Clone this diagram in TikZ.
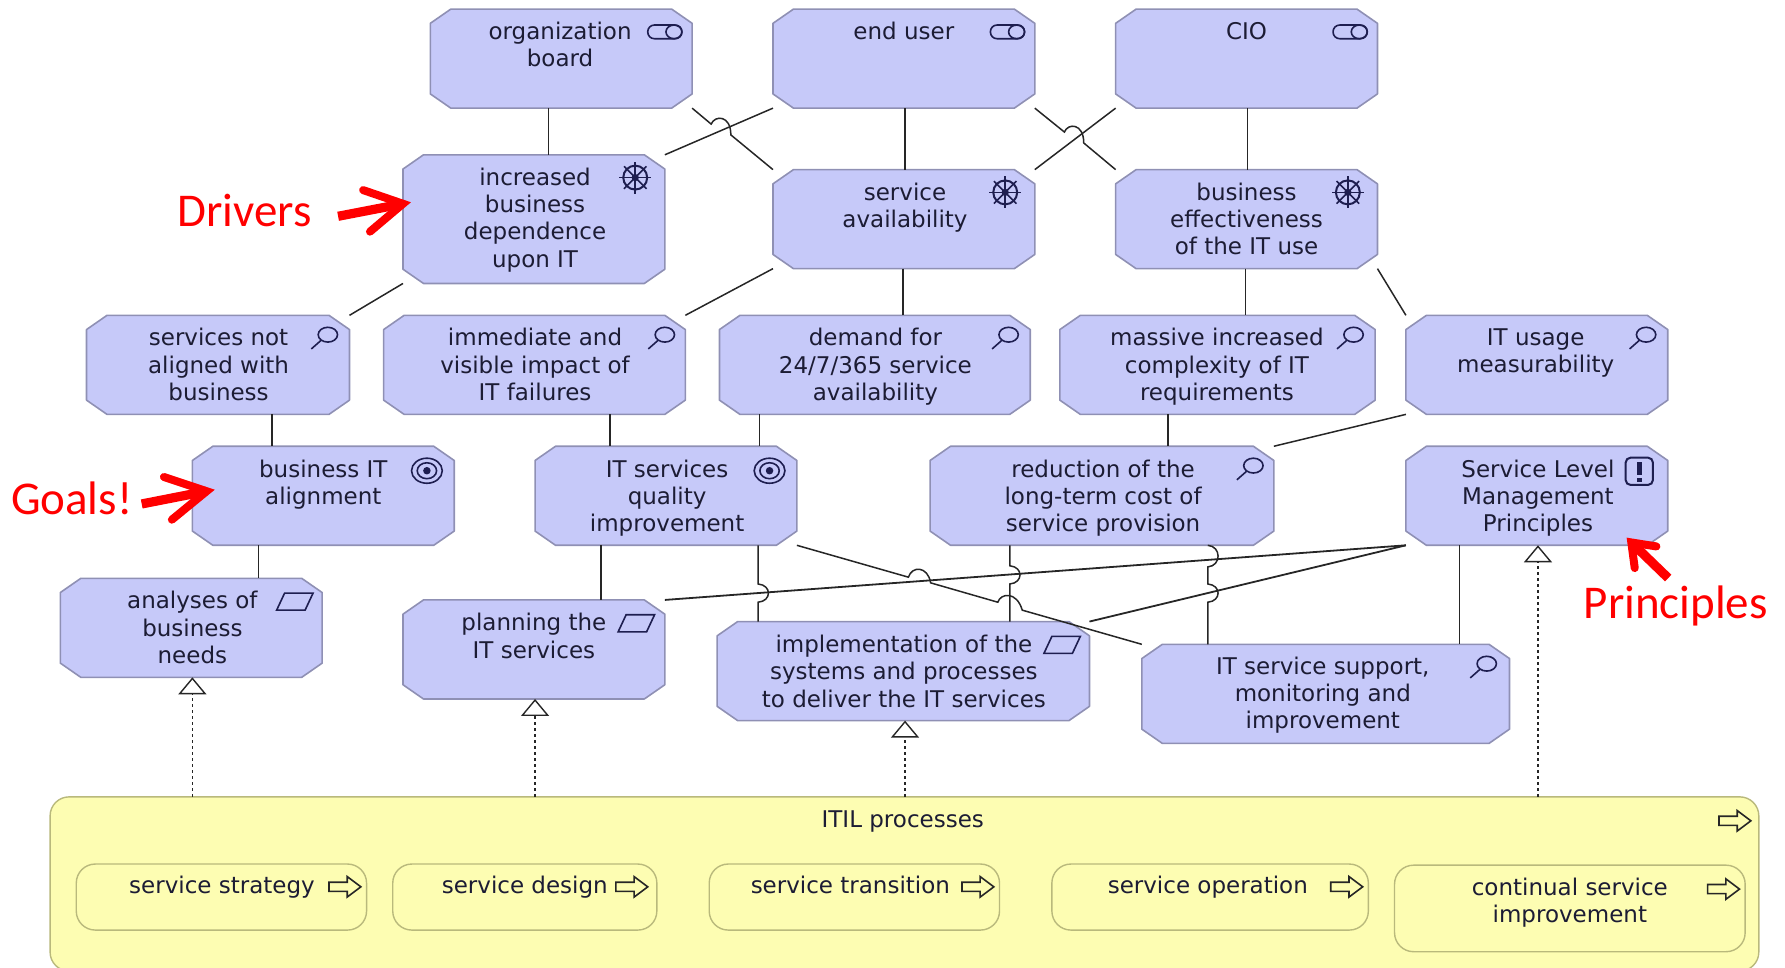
\documentclass[tikz,border=0pt]{standalone}
\usepackage{fontspec}
\setmainfont{DejaVu Sans}
\newfontfamily\redfont{Carlito}
\usetikzlibrary{arrows.meta,calc}
\definecolor{boxfill}{HTML}{C6C9F9}
\definecolor{boxline}{HTML}{8F90B4}
\definecolor{itilfill}{HTML}{FDFDB2}
\definecolor{itilline}{HTML}{B9B97C}
\definecolor{icon}{HTML}{1E1E50}
\definecolor{txt}{HTML}{1C1C34}
\definecolor{redlab}{HTML}{FF0000}
\tikzset{
  archinode/.style={rectangle,inner sep=0pt,outer sep=0pt},
  archibox/.style={draw=boxline,fill=boxfill,line width=0.8pt,line join=round},
  procbox/.style={rectangle,rounded corners=9.5pt,draw=itilline,fill=itilfill,line width=0.7pt,inner sep=0pt,outer sep=0pt},
  lab/.style={anchor=north,align=center,inner sep=0pt,text=txt,font=\fontsize{11.5}{13.68}\selectfont},
  assoc/.style={draw=black!85,line width=0.75pt},
  realize/.style={draw=black!85,line width=0.7pt,dash pattern=on 1.5pt off 1.5pt,
    -{Triangle[open,length=8.5pt,width=14pt,line width=0.7pt,fill=white]}},
  redlabel/.style={text=redlab,inner sep=0pt,font=\redfont\fontsize{23.5}{25}\selectfont},
  redshaft/.style={draw=redlab,line width=4.6pt},
  redbarb/.style={draw=redlab,line width=4pt,line cap=round,line join=miter,miter limit=10},
  ic/.style={draw=icon,line width=0.8pt},
  pics/roleicon/.style={code={
    \draw[ic,rounded corners=3.3pt] (0,-6) rectangle (30,6);
    \draw[ic] (23,0) ellipse[x radius=7,y radius=6];
  }},
  pics/driveicon/.style={code={
    \foreach \a in {0,45,...,315}{\draw[ic] (0,0) -- (\a:14);}
    \draw[ic,line width=1pt] (0,0) circle[radius=10.5];
    \fill[icon] (0,0) circle[radius=3.2];
  }},
  pics/lensicon/.style={code={
    \draw[ic] (0,0) ellipse[x radius=8.5,y radius=6.5];
    \draw[ic] (-6,5) -- (-14.5,12.5);
  }},
  pics/goalicon/.style={code={
    \draw[ic] (0,0) ellipse[x radius=13.5,y radius=11];
    \draw[ic] (0,0) ellipse[x radius=8.5,y radius=7];
    \fill[icon] (0,0) circle[radius=3.3];
  }},
  pics/delivicon/.style={code={
    \draw[ic] (7,0) -- (32,0) -- (25,15) -- (0,15) -- cycle;
  }},
  pics/princicon/.style={code={
    \draw[ic,rounded corners=2.5pt,line width=1pt] (0,0) rectangle (24,24);
    \fill[icon] (10,4) rectangle (14,15);
    \fill[icon] (10,17.5) rectangle (14,21);
  }},
  pics/procicon/.style={code={
    \draw[ic,draw=black!85,line width=0.8pt] (0,-4) -- (16,-4) -- (16,-9) -- (28,0) -- (16,9) -- (16,4) -- (0,4) -- cycle;
  }},
}
\newcommand{\abox}[5]{%
  \draw[archibox] ({#2+18},#3) -- ({#4-18},#3) -- (#4,{#3+12.5}) -- (#4,{#5-12.5}) -- ({#4-18},#5) -- ({#2+18},#5) -- (#2,{#5-12.5}) -- (#2,{#3+12.5}) -- cycle;
  \node[archinode,minimum width={(#4-#2)*0.5692pt},minimum height={(#5-#3)*0.5692pt}] (#1) at ({(#2+#4)/2},{(#3+#5)/2}) {};}
\newcommand{\pbox}[5]{\node[procbox,minimum width={(#4-#2)*0.5692pt},minimum height={(#5-#3)*0.5692pt}] (#1) at ({(#2+#4)/2},{(#3+#5)/2}) {};}
\begin{document}
\begin{tikzpicture}[x=0.5692pt,y=-0.5692pt]
\useasboundingbox (0,0) rectangle (1568,850.3);
\clip (0,0) rectangle (1568,850.3);
% ---------- boxes
\abox{org}{378}{8}{608}{95}
\abox{enduser}{679}{8}{909}{95}
\abox{cio}{980}{8}{1210}{95}
\abox{drva}{354}{136}{584}{249}
\abox{drvb}{679}{149}{909}{236}
\abox{drvc}{980}{149}{1210}{236}
\abox{asa}{76}{277}{307}{364}
\abox{asb}{337}{277}{602}{364}
\abox{asc}{632}{277}{905}{364}
\abox{asd}{931}{277}{1208}{364}
\abox{ase}{1235}{277}{1465}{364}
\abox{goala}{169}{392}{399}{479}
\abox{goalb}{470}{392}{700}{479}
\abox{redu}{817}{392}{1119}{479}
\abox{slm}{1235}{392}{1465}{479}
\abox{anal}{53}{508}{283}{595}
\abox{plan}{354}{527}{584}{614}
\abox{impl}{630}{546}{957}{633}
\abox{supp}{1003}{566}{1326}{653}
\pbox{itil}{44}{700}{1545}{853}
\pbox{pa}{67}{759}{322}{817}
\pbox{pb}{345}{759}{577}{817}
\pbox{pc}{623}{759}{878}{817}
\pbox{pd}{924}{759}{1202}{817}
\pbox{pe}{1225}{760}{1533}{836}
% ---------- straight associations
\draw[assoc] (org.south -| 482,0) -- (drva.north -| 482,0);
\draw[assoc] (enduser.south -| 795,0) -- (drvb.north -| 795,0);
\draw[assoc] (cio.south -| 1096,0) -- (drvc.north -| 1096,0);
\draw[assoc] (drvb.south -| 793,0) -- (asc.north -| 793,0);
\draw[assoc] (drvc.south -| 1094,0) -- (asd.north -| 1094,0);
\draw[assoc] (asa.south -| 239,0) -- (goala.north -| 239,0);
\draw[assoc] (asb.south -| 536,0) -- (goalb.north -| 536,0);
\draw[assoc] (asc.south -| 667,0) -- (goalb.north -| 667,0);
\draw[assoc] (asd.south -| 1026,0) -- (redu.north -| 1026,0);
\draw[assoc] (goala.south -| 227,0) -- (anal.north -| 227,0);
\draw[assoc] (goalb.south -| 528,0) -- (plan.north -| 528,0);
\draw[assoc] (slm.south -| 1282,0) -- (supp.north -| 1282,0);
% ---------- diagonal associations
\draw[assoc] (drva.north east) -- (enduser.south west);
\draw[assoc] (org.south east) -- (624.7,109) .. controls (628,101) and (642,101) .. (642,118.5) -- (drvb.north west);
\draw[assoc] (drvb.north east) -- (cio.south west);
\draw[assoc] (enduser.south east) -- (935,116) .. controls (938,108) and (952,108) .. (952,125.6) -- (drvc.north west);
\draw[assoc] (drva.south west) -- (asa.north east);
\draw[assoc] (drvb.south west) -- (asb.north east);
\draw[assoc] (drvc.south east) -- (ase.north west);
\draw[assoc] (ase.south west) -- (redu.north east);
\draw[assoc,line width=0.9pt] (slm.south west) -- (plan.north east);
\draw[assoc,line width=0.9pt] (slm.south west) -- (impl.north east);
\draw[assoc] (goalb.south east) -- (798,507) .. controls (801,497) and (815,497) .. (817.5,512)
   -- (876.5,529) .. controls (879,521) and (893,519) .. (898,536) -- (supp.north west);
% ---------- associations that hop
\draw[assoc] (goalb.south -| 666,0) -- (666,513) .. controls (678,514) and (678,528) .. (666,529) -- (impl.north -| 666,0);
\draw[assoc] (redu.south -| 887,0) -- (887,497) .. controls (899,498) and (899,512) .. (887,513) -- (impl.north -| 887,0);
\draw[assoc] (redu.south -| 1061,0) .. controls (1073,480) and (1073,497) .. (1061,498) -- (1061,513)
   .. controls (1073,514) and (1073,528) .. (1061,529) -- (supp.north -| 1061,0);
% ---------- realizations
\draw[realize] (itil.north -| 169,0) -- (anal.south -| 169,0);
\draw[realize] (itil.north -| 470,0) -- (plan.south -| 470,0);
\draw[realize] (itil.north -| 795,0) -- (impl.south -| 795,0);
\draw[realize] (itil.north -| 1351,0) -- (slm.south -| 1351,0);
% ---------- icons
\pic at (569,28) {roleicon};
\pic at (870,28) {roleicon};
\pic at (1171,28) {roleicon};
\pic at (558,156) {driveicon};
\pic at (883,169) {driveicon};
\pic at (1184,169) {driveicon};
\pic at (288,294) {lensicon};
\pic at (584,294) {lensicon};
\pic at (886,294) {lensicon};
\pic at (1189,294) {lensicon};
\pic at (1446,294) {lensicon};
\pic at (1101,409) {lensicon};
\pic at (1306,583) {lensicon};
\pic at (375,413.5) {goalicon};
\pic at (676,413.5) {goalicon};
\pic at (243,521) {delivicon};
\pic at (543,540) {delivicon};
\pic at (917,559) {delivicon};
\pic at (1428,402) {princicon};
\pic at (1510,721) {procicon};
\pic at (289,779) {procicon};
\pic at (541,779) {procicon};
\pic at (845,779) {procicon};
\pic at (1169,779) {procicon};
\pic at (1500,781) {procicon};
% ---------- texts
\node[lab] (torg) at (492,19) {organization\\board};
\node[lab] (tend) at (794,19) {end user};
\node[lab] (tcio) at (1095,19) {CIO};
\node[lab] (tdrva) at (470,147) {increased\\business\\dependence\\upon IT};
\node[lab] (tdrvb) at (795,160) {service\\availability};
\node[lab] (tdrvc) at (1095,160) {business\\effectiveness\\of the IT use};
\node[lab] (tasa) at (192,288) {services not\\aligned with\\business};
\node[lab] (tasb) at (470,288) {immediate and\\visible impact of\\IT failures};
\node[lab] (tasc) at (769,288) {demand for\\24/7/365 service\\availability};
\node[lab] (tasd) at (1069,288) {massive increased\\complexity of IT\\requirements};
\node[lab] (tase) at (1349,288) {IT usage\\measurability};
\node[lab] (tgoala) at (284,403.5) {business IT\\alignment};
\node[lab] (tgoalb) at (586,403.5) {IT services\\quality\\improvement};
\node[lab] (tredu) at (969,403.5) {reduction of the\\long-term cost of\\service provision};
\node[lab] (tslm) at (1351,403.5) {Service Level\\Management\\Principles};
\node[lab] (tanal) at (169,519) {analyses of\\business\\needs};
\node[lab] (tplan) at (469,538.5) {planning the\\IT services};
\node[lab] (timpl) at (794,557.5) {implementation of the\\systems and processes\\to deliver the IT services};
\node[lab] (tsupp) at (1162,576.5) {IT service support,\\monitoring and\\improvement};
\node[lab] (titil) at (793,711.5) {ITIL processes};
\node[lab] (tpa) at (195,769) {service strategy};
\node[lab] (tpb) at (461,769) {service design};
\node[lab] (tpc) at (747,769) {service transition};
\node[lab] (tpd) at (1061,769) {service operation};
\node[lab] (tpe) at (1379,771) {continual service\\improvement};
% ---------- red callouts
\node[redlabel] (ldrv) at (215,185) {Drivers};
\node[redlabel] (lgoal) at (63,438) {Goals!};
\node[redlabel] (lpri) at (1472,532) {Principles};
\coordinate (adrv) at (297,190);
\coordinate (tipdrv) at (354,179);
\coordinate (bdrva) at (319,167);
\coordinate (bdrvb) at (325,203.5);
\coordinate (agoal) at (124.5,442.7);
\coordinate (tipgoal) at (181.5,431.5);
\coordinate (bgoala) at (144,419);
\coordinate (bgoalb) at (151,456.5);
\coordinate (apri) at (1465.4,507.8);
\coordinate (tippri) at (1433,476.5);
\coordinate (bpria) at (1455,480);
\coordinate (bprib) at (1436,499);
\draw[redshaft] (adrv) -- (tipdrv);
\draw[redbarb] (bdrva) -- (tipdrv) -- (bdrvb);
\draw[redshaft] (agoal) -- (tipgoal);
\draw[redbarb] (bgoala) -- (tipgoal) -- (bgoalb);
\draw[redshaft] (apri) -- (tippri);
\draw[redbarb] (bpria) -- (tippri) -- (bprib);
\end{tikzpicture}
\end{document}
